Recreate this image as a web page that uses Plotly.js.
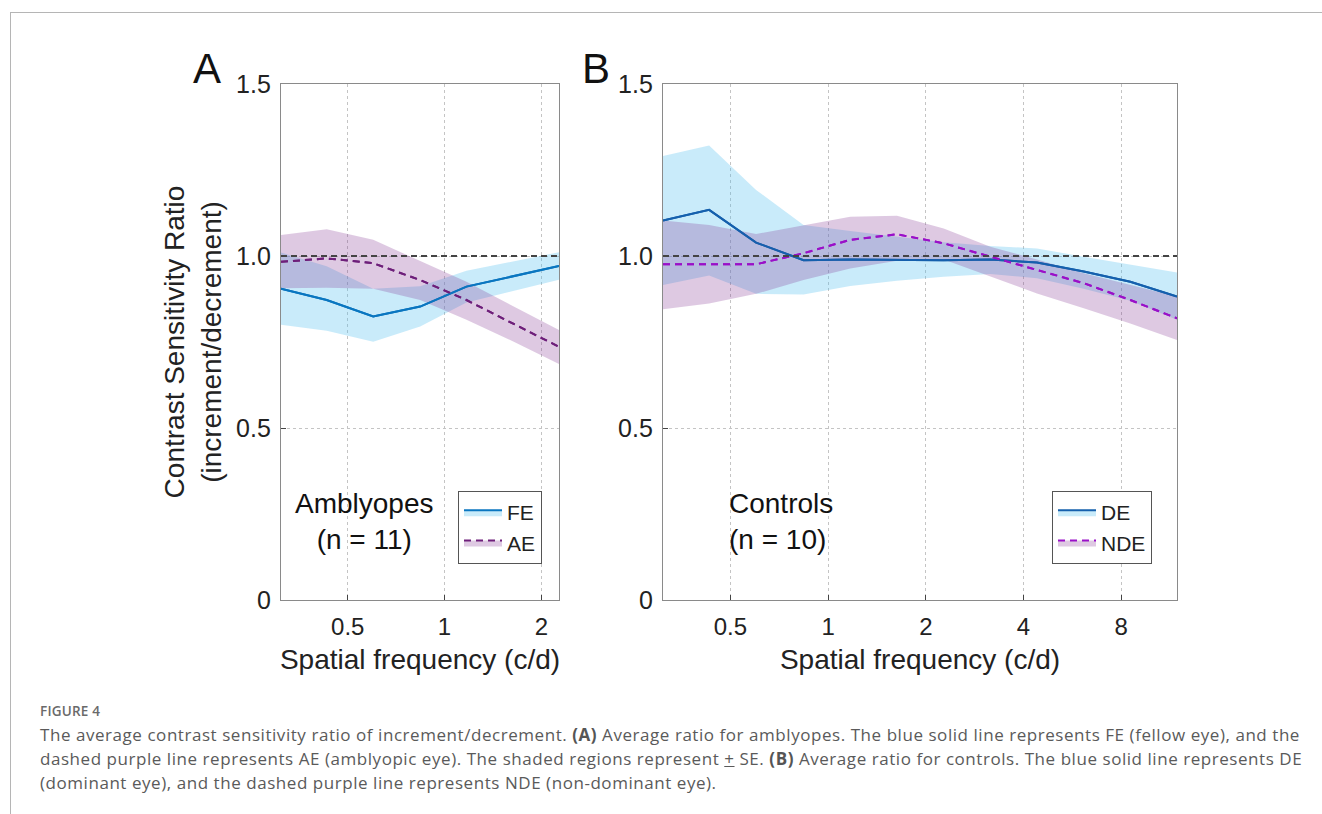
<!DOCTYPE html>
<html>
<head>
<meta charset="utf-8">
<script src="https://cdn.plot.ly/plotly-3.0.1.min.js"></script>
<style>
  html, body { margin:0; padding:0; background:#fff; }
  #wrap { position:relative; width:1322px; height:814px; overflow:hidden; }
  #plot { position:absolute; left:0; top:0; width:1322px; height:814px; }
  #frame { position:absolute; left:10px; top:12px; width:1330px; height:820px;
           border-left:1px solid #b5b5b5; border-top:1px solid #b5b5b5; }
  #caption { position:absolute; left:40px; top:699px; font-family:"Open Sans","Noto Sans",sans-serif;
             color:#5a5a5a; font-size:17px; letter-spacing:0.55px; line-height:24px; white-space:nowrap; }
  #caption .fig { font-size:13.5px; font-weight:600; letter-spacing:0.2px; color:#6a6a6a; }
  #caption b { font-weight:700; color:#555; }
</style>
</head>
<body>
<div id="wrap">
  <div id="frame"></div>
  <div id="plot"></div>
  <div id="caption">
    <div class="fig">FIGURE 4</div>
    <div>The average contrast sensitivity ratio of increment/decrement. <b>(A)</b> Average ratio for amblyopes. The blue solid line represents FE (fellow eye), and the</div>
    <div>dashed purple line represents AE (amblyopic eye). The shaded regions represent <u>+</u> SE. <b>(B)</b> Average ratio for controls. The blue solid line represents DE</div>
    <div>(dominant eye), and the dashed purple line represents NDE (non-dominant eye).</div>
  </div>
</div>
<script>
// ---- data ----
const freqA = [0.31, 0.43, 0.6, 0.84, 1.17, 1.63, 2.27];
const feMean  = [0.905, 0.872, 0.824, 0.853, 0.911, 0.940, 0.971];
const feUpper = [1.010, 0.970, 0.905, 0.912, 0.957, 0.983, 1.011];
const feLower = [0.800, 0.783, 0.751, 0.795, 0.865, 0.897, 0.931];
const aeMean  = [0.983, 0.993, 0.979, 0.930, 0.872, 0.804, 0.736];
const aeUpper = [1.061, 1.078, 1.047, 0.985, 0.925, 0.855, 0.785];
const aeLower = [0.906, 0.908, 0.905, 0.872, 0.815, 0.752, 0.686];

const freqB = [0.31, 0.43, 0.6, 0.84, 1.17, 1.63, 2.27, 3.16, 4.4, 6.13, 8.53, 11.88];
const deMean  = [1.103, 1.134, 1.039, 0.988, 0.990, 0.988, 0.988, 0.990, 0.981, 0.955, 0.925, 0.882];
const deUpper = [1.291, 1.321, 1.192, 1.090, 1.073, 1.056, 1.040, 1.029, 1.022, 0.998, 0.974, 0.952];
const deLower = [0.916, 0.943, 0.890, 0.888, 0.913, 0.928, 0.940, 0.948, 0.935, 0.905, 0.870, 0.815];
const ndeMean  = [0.976, 0.976, 0.976, 1.008, 1.047, 1.063, 1.037, 0.998, 0.959, 0.921, 0.872, 0.819];
const ndeUpper = [1.103, 1.090, 1.064, 1.090, 1.114, 1.117, 1.080, 1.027, 0.990, 0.950, 0.916, 0.882];
const ndeLower = [0.845, 0.862, 0.890, 0.930, 0.964, 0.986, 0.990, 0.940, 0.891, 0.848, 0.804, 0.756];

const xTicksA = [0.5, 1, 2];
const xTickTextA = ['0.5', '1', '2'];
const xTicksB = [0.5, 1, 2, 4, 8];
const xTickTextB = ['0.5', '1', '2', '4', '8'];
const yTicks = [0, 0.5, 1, 1.5];
const yTickText = ['0', '0.5', '1.0', '1.5'];

// ---- styles ----
const W = 1322, H = 814;
const FONT = 'Liberation Sans, Arial, sans-serif';
const BLUE_FILL = 'rgba(77,190,238,0.30)';
const PURP_FILL = 'rgba(126,47,142,0.26)';
const colA = {fe:'#0a76c0', ae:'#6e1f7a'};
const colB = {de:'#1560ad', nde:'#9a10c8'};
const DASH = '7px,5px';

function band(x, lo, mid, hi, fill, line, name, xa, ya, leg) {
  return [
    {x:x, y:lo, xaxis:xa, yaxis:ya, mode:'lines', line:{width:0, color:fill}, showlegend:false, hoverinfo:'skip'},
    {x:x, y:mid, xaxis:xa, yaxis:ya, mode:'lines', fill:'tonexty', fillcolor:fill, line:line, name:name, legend:leg, showlegend:true},
    {x:x, y:hi, xaxis:xa, yaxis:ya, mode:'lines', fill:'tonexty', fillcolor:fill, line:{width:0, color:fill}, showlegend:false, hoverinfo:'skip'}
  ];
}
function topLine(x, y, line, xa, ya) {
  return {x:x, y:y, xaxis:xa, yaxis:ya, mode:'lines', line:line, showlegend:false};
}

const lFE = {color:colA.fe, width:2};
const lAE = {color:colA.ae, width:2, dash:DASH};
const lDE = {color:colB.de, width:2};
const lNDE = {color:colB.nde, width:2, dash:DASH};

const traces = [].concat(
  band(freqA, feLower, feMean, feUpper, BLUE_FILL, lFE, 'FE', 'x', 'y', 'legend'),
  band(freqA, aeLower, aeMean, aeUpper, PURP_FILL, lAE, 'AE', 'x', 'y', 'legend'),
  band(freqB, deLower, deMean, deUpper, BLUE_FILL, lDE, 'DE', 'x2', 'y2', 'legend2'),
  band(freqB, ndeLower, ndeMean, ndeUpper, PURP_FILL, lNDE, 'NDE', 'x2', 'y2', 'legend2'),
  [topLine(freqA, feMean, lFE, 'x', 'y'), topLine(freqA, aeMean, lAE, 'x', 'y'),
   topLine(freqB, deMean, lDE, 'x2', 'y2'), topLine(freqB, ndeMean, lNDE, 'x2', 'y2')]
);

const px = v => v / W;
const py = v => 1 - v / H;

const axBase = {
  showline:true, linecolor:'#8a8a8a', linewidth:1.2, mirror:true,
  ticks:'inside', ticklen:5, tickcolor:'#444', tickwidth:1,
  showgrid:true, gridcolor:'#c4c4c4', griddash:'dot', gridwidth:1,
  zeroline:false, fixedrange:true,
};
const xBase = Object.assign({}, axBase, {type:'log', tickfont:{family:FONT, size:24, color:'#222'}, ticklabelstandoff:5,
  title:{text:'Spatial frequency (c/d)', font:{family:FONT, size:28, color:'#222'}, standoff:10}});
const yBase = Object.assign({}, axBase, {range:[0,1.5], tickvals:yTicks, ticktext:yTickText,
  tickfont:{family:FONT, size:25, color:'#222'}, ticklabelstandoff:4});

const legBase = {xanchor:'left', yanchor:'top', bgcolor:'#fff', bordercolor:'#555', borderwidth:1,
  font:{family:FONT, size:21, color:'#222'}, tracegroupgap:0, itemwidth:38, traceorder:'normal'};

const layout = {
  width:W, height:H, margin:{l:0, r:0, t:0, b:0},
  paper_bgcolor:'rgba(0,0,0,0)', plot_bgcolor:'#fff',
  font:{family:FONT, color:'#222'},
  xaxis: Object.assign({}, xBase, {domain:[px(281), px(559)], anchor:'y',
    range:[Math.log10(freqA[0]), Math.log10(freqA[freqA.length-1])], tickvals:xTicksA, ticktext:xTickTextA}),
  yaxis: Object.assign({}, yBase, {domain:[py(600), py(84)], anchor:'x',
    title:{text:'Contrast Sensitivity Ratio<br>(increment/decrement)', font:{family:FONT, size:28, color:'#222'}, standoff:6}}),
  xaxis2: Object.assign({}, xBase, {domain:[px(663), px(1177)], anchor:'y2',
    range:[Math.log10(freqB[0]), Math.log10(freqB[freqB.length-1])], tickvals:xTicksB, ticktext:xTickTextB}),
  yaxis2: Object.assign({}, yBase, {domain:[py(600), py(84)], anchor:'x2'}),
  legend: Object.assign({}, legBase, {x:px(458), y:py(491)}),
  legend2: Object.assign({}, legBase, {x:px(1052), y:py(491)}),
  shapes: [
    {type:'line', xref:'x domain', yref:'y', x0:0, x1:1, y0:1, y1:1, line:{color:'#444', width:1.8, dash:'6px,4px'}},
    {type:'line', xref:'x2 domain', yref:'y2', x0:0, x1:1, y0:1, y1:1, line:{color:'#444', width:1.8, dash:'6px,4px'}}
  ],
  annotations: [
    {text:'A', xref:'paper', yref:'paper', x:px(207), y:py(68), xanchor:'center', yanchor:'middle', showarrow:false, font:{family:FONT, size:42, color:'#111'}},
    {text:'B', xref:'paper', yref:'paper', x:px(596), y:py(68), xanchor:'center', yanchor:'middle', showarrow:false, font:{family:FONT, size:42, color:'#111'}},
    {text:'Amblyopes<br>(n = 11)', xref:'paper', yref:'paper', x:px(364), y:py(521), xanchor:'center', yanchor:'middle', align:'center', showarrow:false,
      font:{family:FONT, size:28, color:'#111'}},
    {text:'Controls<br>(n = 10)', xref:'paper', yref:'paper', x:px(727), y:py(521), xanchor:'left', yanchor:'middle', align:'left', showarrow:false,
      font:{family:FONT, size:28, color:'#111'}}
  ],
  showlegend:true
};

Plotly.newPlot('plot', traces, layout, {staticPlot:true, displayModeBar:false});
</script>
</body>
</html>
